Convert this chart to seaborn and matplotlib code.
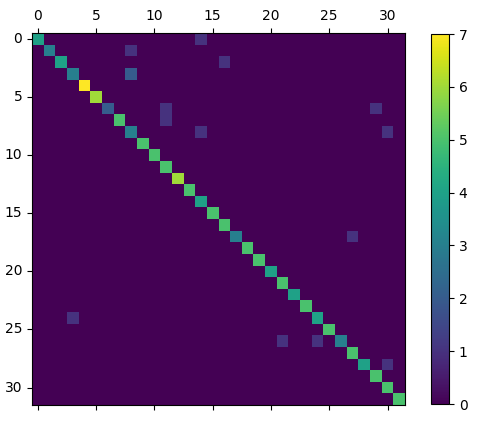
import numpy as np
import matplotlib
matplotlib.use("Agg")
import matplotlib.pyplot as plt
import seaborn as sns

n_classes = 32
diag_values = [4, 3, 4, 3, 7, 6, 2, 5, 3, 5,
               5, 5, 6, 5, 4, 5, 5, 3, 5, 5,
               4, 5, 4, 5, 4, 5, 3, 5, 4, 5,
               5, 5]
off_rows = [0, 1, 2, 3, 6, 7, 6, 8, 8, 17, 24, 26, 26, 28]
off_cols = [14, 8, 16, 8, 11, 11, 29, 14, 30, 27, 3, 21, 24, 30]
off_vals = [1, 1, 1, 2, 1, 1, 1, 1, 1, 1, 1, 1, 1, 1]
tick_labels = [0, 5, 10, 15, 20, 25, 30]
cbar_ticks = [0, 1, 2, 3, 4, 5, 6, 7]

mat = np.zeros((n_classes, n_classes))
mat[np.arange(n_classes), np.arange(n_classes)] = diag_values
mat[off_rows, off_cols] = off_vals

W, H = 478, 426
fig = plt.figure(figsize=(W / 100, H / 100), dpi=100)
ax = fig.add_axes([32 / W, (H - 405) / H, 373 / W, 372 / H])
cax = fig.add_axes([431 / W, (H - 404) / H, 18 / W, 370 / H])

sns.heatmap(mat, ax=ax, cbar_ax=cax, cmap="viridis", vmin=0, vmax=7,
            square=False, cbar=True)

pos = [t + 0.5 for t in tick_labels]
ax.set_xticks(pos)
ax.set_xticklabels([str(t) for t in tick_labels], rotation=0)
ax.set_yticks(pos)
ax.set_yticklabels([str(t) for t in tick_labels], rotation=0)
ax.tick_params(top=True, labeltop=True, bottom=True, labelbottom=False,
               left=True, labelleft=True, labelsize=10, length=3.5, width=0.8)
for s in ax.spines.values():
    s.set_visible(True)
    s.set_linewidth(0.8)
    s.set_color("black")

cb = ax.collections[0].colorbar
cb.set_ticks(cbar_ticks)
cb.outline.set_visible(True)
cb.outline.set_linewidth(0.8)
cb.outline.set_edgecolor("black")
cax.tick_params(labelsize=10, length=3.5, width=0.8)

fig.savefig("out.png", dpi=100)
